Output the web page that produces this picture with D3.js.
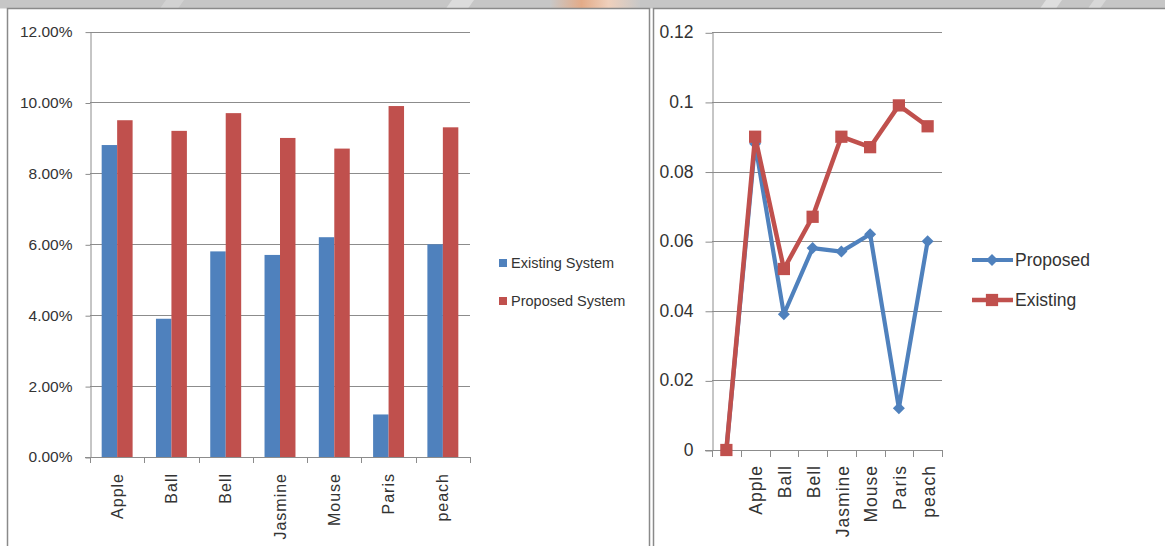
<!DOCTYPE html>
<html>
<head>
<meta charset="utf-8">
<script src="https://cdn.jsdelivr.net/npm/d3@7"></script>
<style>
  html, body { margin: 0; padding: 0; background: #fff; }
  svg { display: block; }
  text { font-family: "Liberation Sans", Arial, sans-serif; fill: #333; }
</style>
</head>
<body>
<svg id="chart" width="1165" height="546"></svg>
<script>
// ---- Bar chart data (share of items, as fractions) ----
const barCategories = ["Apple", "Ball", "Bell", "Jasmine", "Mouse", "Paris", "peach"];
const existingSystem = [0.088, 0.039, 0.058, 0.057, 0.062, 0.012, 0.060];
const proposedSystem = [0.095, 0.092, 0.097, 0.090, 0.087, 0.099, 0.093];
const barSeriesNames = ["Existing System", "Proposed System"];
const barTickValues = [0, 0.02, 0.04, 0.06, 0.08, 0.10, 0.12];

// ---- Line chart data (first category is an unnamed start point) ----
const lineCategories = ["", "Apple", "Ball", "Bell", "Jasmine", "Mouse", "Paris", "peach"];
const proposedValues = [0, 0.088, 0.039, 0.058, 0.057, 0.062, 0.012, 0.060];
const existingValues = [0, 0.090, 0.052, 0.067, 0.090, 0.087, 0.099, 0.093];
const lineSeriesNames = ["Proposed", "Existing"];
const lineTickValues = [0, 0.02, 0.04, 0.06, 0.08, 0.1, 0.12];

const BLUE = "#4f81bd";
const RED = "#c0504d";
const GRID = "#8c8c8c";

const svg = d3.select("#chart");

// ---- decorative header strip ----
const defs = svg.append("defs");
const grad = defs.append("linearGradient").attr("id", "stripGlow").attr("x1", 0).attr("x2", 1);
grad.append("stop").attr("offset", "0%").attr("stop-color", "#c8c8c8");
grad.append("stop").attr("offset", "35%").attr("stop-color", "#e3ab88");
grad.append("stop").attr("offset", "65%").attr("stop-color", "#efd0bc");
grad.append("stop").attr("offset", "100%").attr("stop-color", "#c8c8c8");

svg.append("rect").attr("x", 0).attr("y", 0).attr("width", 1165).attr("height", 8.5).attr("fill", "#c6c6c6");
svg.append("rect").attr("x", 550).attr("y", 0).attr("width", 90).attr("height", 8.5).attr("fill", "url(#stripGlow)");
[[160, 18, "#d2d2d2"], [446, 22, "#dcdcdc"], [1040, 16, "#dedede"], [1088, 12, "#d8d8d8"]].forEach(([x, w, c]) => {
  svg.append("path")
    .attr("d", `M${x + 6},0 L${x + w + 6},0 L${x + w},8.5 L${x},8.5 Z`)
    .attr("fill", c);
});

// ---- panel frames ----
svg.append("rect").attr("x", 7.5).attr("y", 8.5).attr("width", 642).attr("height", 560)
  .attr("fill", "#fff").attr("stroke", "#8a8a8a").attr("stroke-width", 1.5);
svg.append("rect").attr("x", 653.5).attr("y", 8.5).attr("width", 530).attr("height", 560)
  .attr("fill", "#fff").attr("stroke", "#8a8a8a").attr("stroke-width", 1.5);

// =================== Left: grouped bar chart ===================
{
  const left = 90, right = 470, top = 31.6, bottom = 457;
  const y = d3.scaleLinear().domain([0, 0.12]).range([bottom, top]);
  const x0 = d3.scaleBand().domain(barCategories).range([left, right])
    .paddingInner(0.43).paddingOuter(0.215);
  const x1 = d3.scaleBand().domain(barSeriesNames).range([0, x0.bandwidth()]);
  const g = svg.append("g");

  // horizontal gridlines
  g.append("g").selectAll("line").data(barTickValues).join("line")
    .attr("x1", left).attr("x2", right)
    .attr("y1", d => Math.round(y(d)) + 0.5).attr("y2", d => Math.round(y(d)) + 0.5)
    .attr("stroke", GRID).attr("stroke-width", 1);

  // y axis
  const yAxis = g.append("g").attr("transform", `translate(${left + 0.5},0)`)
    .call(d3.axisLeft(y).tickValues(barTickValues).tickFormat(d3.format(".2%"))
      .tickSize(5).tickSizeOuter(0).tickPadding(13));
  yAxis.select(".domain").attr("stroke", GRID);
  yAxis.selectAll(".tick line").attr("stroke", GRID).attr("transform", "translate(0,0.5)");
  yAxis.selectAll(".tick text").attr("font-size", 15.5).attr("fill", "#333")
    .attr("font-family", "'Liberation Sans', Arial, sans-serif");

  // bars
  const series = [existingSystem, proposedSystem];
  const colors = [BLUE, RED];
  barSeriesNames.forEach((name, si) => {
    g.append("g").selectAll("rect").data(barCategories).join("rect")
      .attr("x", c => x0(c) + x1(name))
      .attr("width", x1.bandwidth())
      .attr("y", (c, i) => y(series[si][i]))
      .attr("height", (c, i) => bottom - y(series[si][i]))
      .attr("fill", colors[si]);
  });

  // category axis with ticks between groups
  const step = x0.step();
  const bounds = d3.range(barCategories.length + 1).map(i => left + i * step);
  g.append("line").attr("x1", left - 5).attr("x2", right)
    .attr("y1", bottom + 0.5).attr("y2", bottom + 0.5).attr("stroke", GRID);
  g.append("g").selectAll("line").data(bounds).join("line")
    .attr("x1", d => Math.round(d) + 0.5).attr("x2", d => Math.round(d) + 0.5)
    .attr("y1", bottom).attr("y2", bottom + 6).attr("stroke", GRID);
  g.append("g").selectAll("text").data(barCategories).join("text")
    .attr("transform", c => `translate(${x0(c) + x0.bandwidth() / 2},${bottom + 16}) rotate(-90)`)
    .attr("text-anchor", "end").attr("dy", "0.35em")
    .attr("font-size", 16).attr("letter-spacing", 1)
    .text(c => c);

  // legend
  const lg = g.append("g");
  barSeriesNames.forEach((name, i) => {
    const cy = 263 + i * 38;
    lg.append("rect").attr("x", 499).attr("y", cy - 4).attr("width", 8).attr("height", 8).attr("fill", colors[i]);
    lg.append("text").attr("x", 511).attr("y", cy).attr("dy", "0.35em")
      .attr("font-size", 14.5).text(name);
  });
}

// =================== Right: line chart ===================
{
  const left = 712, right = 942, top = 32.3, bottom = 450;
  const y = d3.scaleLinear().domain([0, 0.12]).range([bottom, top]);
  const x = d3.scaleBand().domain(lineCategories).range([left, right]);
  const cx = c => x(c) + x.bandwidth() / 2;
  const g = svg.append("g");

  g.append("g").selectAll("line").data(lineTickValues).join("line")
    .attr("x1", left).attr("x2", right)
    .attr("y1", d => Math.round(y(d)) + 0.5).attr("y2", d => Math.round(y(d)) + 0.5)
    .attr("stroke", GRID).attr("stroke-width", 1);

  const yAxis = g.append("g").attr("transform", `translate(${left + 0.5},0)`)
    .call(d3.axisLeft(y).tickValues(lineTickValues).tickFormat(d => String(d))
      .tickSize(7).tickSizeOuter(0).tickPadding(12));
  yAxis.select(".domain").attr("stroke", GRID);
  yAxis.selectAll(".tick line").attr("stroke", GRID).attr("transform", "translate(0,0.5)");
  yAxis.selectAll(".tick text").attr("font-size", 17.5).attr("fill", "#333")
    .attr("font-family", "'Liberation Sans', Arial, sans-serif");

  const step = x.step();
  const bounds = d3.range(lineCategories.length + 1).map(i => left + i * step);
  g.append("line").attr("x1", left - 7).attr("x2", right)
    .attr("y1", bottom + 0.5).attr("y2", bottom + 0.5).attr("stroke", GRID);
  g.append("g").selectAll("line").data(bounds).join("line")
    .attr("x1", d => Math.round(d) + 0.5).attr("x2", d => Math.round(d) + 0.5)
    .attr("y1", bottom).attr("y2", bottom + 7).attr("stroke", GRID);
  g.append("g").selectAll("text").data(lineCategories.filter(c => c !== "")).join("text")
    .attr("transform", c => `translate(${cx(c) + 1},${bottom + 15}) rotate(-90)`)
    .attr("text-anchor", "end").attr("dy", "0.35em")
    .attr("font-size", 17.5).attr("letter-spacing", 1)
    .text(c => c);

  const line = d3.line().x((d, i) => cx(lineCategories[i])).y(d => y(d));
  const diamond = d3.symbol(d3.symbolSquare, 72);
  const square = d3.symbol(d3.symbolSquare, 150);

  // Proposed (blue, diamonds)
  g.append("path").datum(proposedValues).attr("d", line)
    .attr("fill", "none").attr("stroke", BLUE).attr("stroke-width", 4.2).attr("stroke-linejoin", "round");
  g.append("g").selectAll("path").data(proposedValues).join("path")
    .attr("d", diamond)
    .attr("transform", (d, i) => `translate(${cx(lineCategories[i])},${y(d)}) rotate(45)`)
    .attr("fill", BLUE);

  // Existing (red, squares)
  g.append("path").datum(existingValues).attr("d", line)
    .attr("fill", "none").attr("stroke", RED).attr("stroke-width", 4.5).attr("stroke-linejoin", "round");
  g.append("g").selectAll("path").data(existingValues).join("path")
    .attr("d", square)
    .attr("transform", (d, i) => `translate(${cx(lineCategories[i])},${y(d)})`)
    .attr("fill", RED);

  // legend
  const lg = g.append("g");
  const legendMarks = [diamond, square];
  const legendColors = [BLUE, RED];
  lineSeriesNames.forEach((name, i) => {
    const ly = 260 + i * 40;
    lg.append("line").attr("x1", 972).attr("x2", 1013).attr("y1", ly).attr("y2", ly)
      .attr("stroke", legendColors[i]).attr("stroke-width", i ? 4.5 : 4.2);
    lg.append("path").attr("d", legendMarks[i])
      .attr("transform", `translate(992,${ly})${i ? "" : " rotate(45)"}`)
      .attr("fill", legendColors[i]);
    lg.append("text").attr("x", 1015).attr("y", ly).attr("dy", "0.35em")
      .attr("font-size", 17.5).text(name);
  });
}
</script>
</body>
</html>
